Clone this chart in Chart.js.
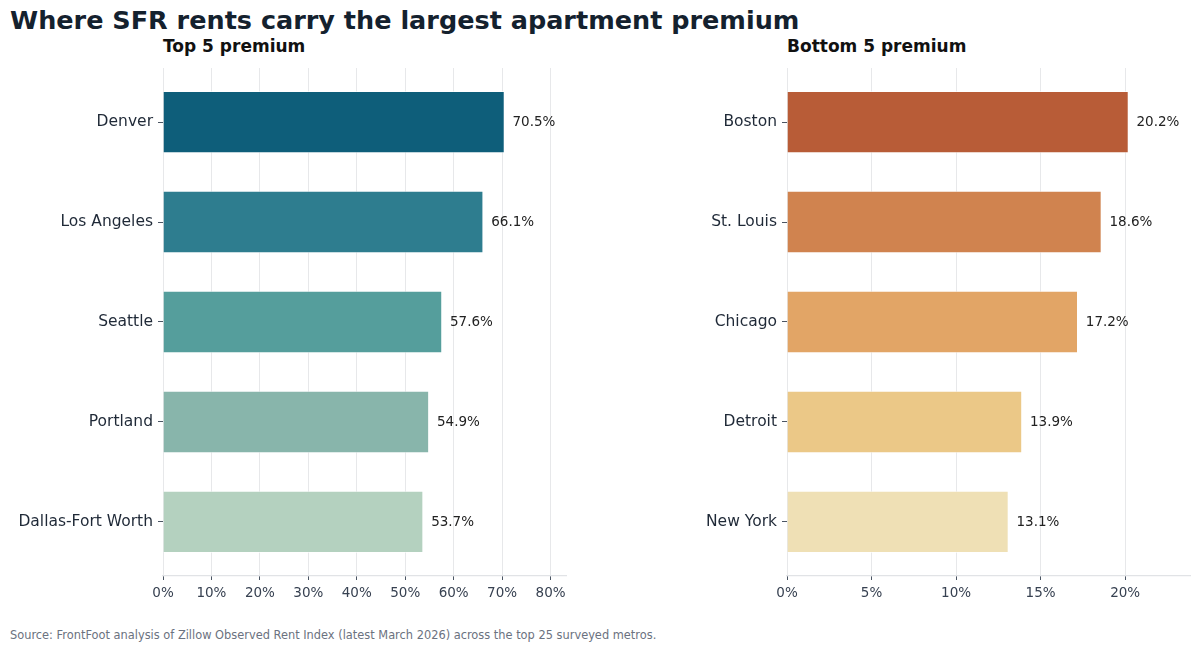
<!DOCTYPE html>
<html>
<head>
<meta charset="utf-8">
<script src="https://cdn.jsdelivr.net/npm/chart.js@4.4.1/dist/chart.umd.min.js"></script>
<style>
  html,body{margin:0;padding:0;background:#fff;}
  body{width:1200px;height:652px;position:relative;overflow:hidden;font-family:"DejaVu Sans",sans-serif;}
  .txt{position:absolute;white-space:nowrap;line-height:1;}
  #title{left:10px;top:8px;font-size:25.5px;font-weight:bold;color:#14212e;}
  .sub{top:38px;font-size:17px;font-weight:bold;color:#111;}
  #subL{left:163px;} #subR{left:787px;}
  #source{left:10px;top:630px;font-size:11.4px;color:#6b7280;}
  .box{position:absolute;top:60px;width:600px;height:560px;}
  #boxL{left:0;} #boxR{left:600px;}
</style>
</head>
<body>
<div id="title" class="txt">Where SFR rents carry the largest apartment premium</div>
<div id="subL" class="txt sub">Top 5 premium</div>
<div id="subR" class="txt sub">Bottom 5 premium</div>
<div class="box" id="boxL"><canvas id="cL"></canvas></div>
<div class="box" id="boxR"><canvas id="cR"></canvas></div>
<div id="source" class="txt">Source: FrontFoot analysis of Zillow Observed Rent Index (latest March 2026) across the top 25 surveyed metros.</div>
<script>
/* ====== DATA ====== */
const TOP_CITIES    = ['Denver','Los Angeles','Seattle','Portland','Dallas-Fort Worth'];
const TOP_VALUES    = [70.5, 66.1, 57.6, 54.9, 53.7];
const BOTTOM_CITIES = ['Boston','St. Louis','Chicago','Detroit','New York'];
const BOTTOM_VALUES = [20.2, 18.6, 17.2, 13.9, 13.1];
const TOP_STEP = 10, BOTTOM_STEP = 5;

/* ====== STYLE ====== */
const TOP_COLORS    = ['#0e5e7a','#2e7d8f','#559e9c','#88b5ab','#b4d1bf'];
const BOTTOM_COLORS = ['#b85c37','#d0834f','#e2a566','#ebc887','#efe0b5'];
const BAR_H = 0.62;

const valueLabels = {
  id:'valueLabels',
  afterDatasetsDraw(chart){
    const ctx=chart.ctx, meta=chart.getDatasetMeta(0);
    ctx.save();
    ctx.font='13.5px "DejaVu Sans"'; ctx.fillStyle='#222';
    ctx.textBaseline='middle'; ctx.textAlign='left';
    meta.data.forEach((bar,i)=>{
      const v=chart.data.datasets[0].data[i].x;
      ctx.fillText(v.toFixed(1)+'%', bar.x+8, bar.y+0.5);
    });
    ctx.restore();
  }
};

function makeChart(id, cities, values, colors, step, axisW, padR){
  const n=cities.length;
  const pad=BAR_H/2 + (n-1+BAR_H)*0.05;
  return new Chart(document.getElementById(id).getContext('2d'),{
    type:'bar',
    data:{datasets:[{
      data:values.map((v,i)=>({x:v,y:i})),
      backgroundColor:colors,
      borderColor:'rgba(255,255,255,0.6)',
      borderWidth:0.8,
      categoryPercentage:1, barPercentage:BAR_H
    }]},
    options:{
      indexAxis:'y', responsive:true, maintainAspectRatio:false, animation:false,
      layout:{padding:{top:8,right:padR,bottom:0,left:0}},
      plugins:{legend:{display:false},tooltip:{enabled:false}},
      scales:{
        x:{
          type:'linear', min:0, max:Math.max(...values)*1.18,
          grid:{color:'#e7e8ea',lineWidth:1,tickColor:'#4b5563',tickLength:4},
          border:{display:true,color:'#e1e3e6',width:1.2},
          ticks:{stepSize:step,includeBounds:false,padding:5,color:'#374151',
            font:{family:'DejaVu Sans',size:13.5},callback:v=>v+'%'},
          afterFit:s=>{ s.height=44; }
        },
        y:{
          type:'linear', reverse:true, min:-pad, max:n-1+pad, offset:false,
          grid:{display:true,offset:false,drawOnChartArea:false,color:'#4b5563',tickLength:5},
          border:{display:false},
          ticks:{padding:5,color:'#1f2937',font:{family:'DejaVu Sans',size:15.5},
            callback:v=>cities[v]??''},
          afterBuildTicks:s=>{ s.ticks=cities.map((_,i)=>({value:i})); },
          afterFit:s=>{ s.width=axisW; s.paddingTop=0; s.paddingBottom=0; }
        }
      }
    },
    plugins:[valueLabels]
  });
}

makeChart('cL', TOP_CITIES, TOP_VALUES, TOP_COLORS, TOP_STEP, 163, 34);
makeChart('cR', BOTTOM_CITIES, BOTTOM_VALUES, BOTTOM_COLORS, BOTTOM_STEP, 187, 10);
</script>
</body>
</html>
